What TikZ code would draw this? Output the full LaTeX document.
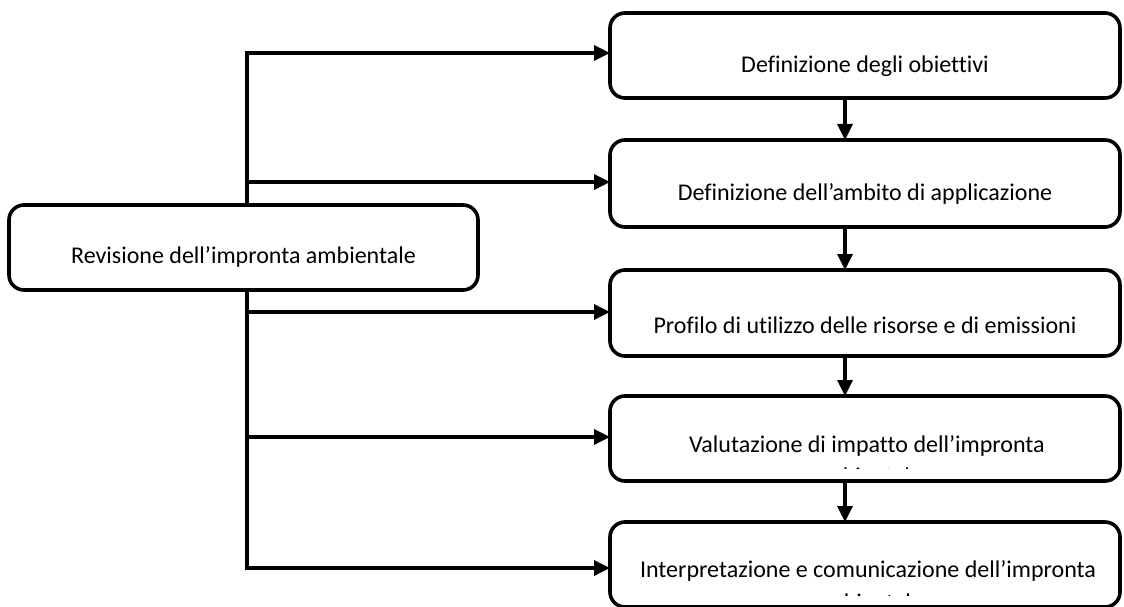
\documentclass[tikz,border=0pt]{standalone}
\usepackage{fontspec}
\setmainfont{Carlito}[RawFeature=-liga]
\usetikzlibrary{arrows.meta}
\begin{document}
\begin{tikzpicture}[x=1pt,y=-1pt,
  boxstyle/.style={draw=black, line width=3.6pt, rounded corners=15pt, fill=white, inner sep=0pt, outer sep=0pt},
  lbl/.style={font=\fontsize{24}{29}\selectfont, anchor=base, inner sep=0pt},
  arr/.style={line width=3.4pt, -{Triangle[length=16pt,width=15pt]}},
  trunkline/.style={line width=3.4pt}]
\useasboundingbox (0,0) rectangle (1124,607);
% trunk (behind the boxes)
\coordinate (j1) at (247,53);
\coordinate (j2) at (247,182);
\coordinate (j3) at (247,312);
\coordinate (j4) at (247,437);
\coordinate (j5) at (247,568);
\draw[trunkline] ([yshift=1.7pt]j1) -- ([yshift=-1.7pt]j5);
% boxes
\node[boxstyle, minimum width=469pt, minimum height=85pt] (rev) at (243.5,247.5) {};
\node[boxstyle, minimum width=510pt, minimum height=85pt] (b1) at (865,55.5) {};
\node[boxstyle, minimum width=510pt, minimum height=87pt] (b2) at (865,183.5) {};
\node[boxstyle, minimum width=510pt, minimum height=86pt] (b3) at (865,313) {};
\node[boxstyle, minimum width=510pt, minimum height=85pt] (b4) at (865,438.5) {};
\node[boxstyle, minimum width=510pt, minimum height=85pt] (b5) at (865,564.5) {};
% texts
\node[lbl] (trev) at (243.5,263) {Revisione dell’impronta ambientale};
\node[lbl] (t1) at (865,73) {Definizione degli obiettivi};
\node[lbl] (t2) at (865,200) {Definizione dell’ambito di applicazione};
\node[lbl] (t3) at (865,333) {Profilo di utilizzo delle risorse e di emissioni};
\begin{scope}
  \clip (b4.north west) rectangle ([yshift=13pt]b4.south east);
  \node[lbl] (t4) at (867,452) {Valutazione di impatto dell’impronta};
  \node[lbl] (t4b) at (867,484) {ambientale};
\end{scope}
\begin{scope}
  \clip (b5.north west) rectangle ([yshift=12pt]b5.south east);
  \node[lbl] (t5) at (868,577) {Interpretazione e comunicazione dell’impronta};
  \node[lbl] (t5b) at (868,610) {ambientale};
\end{scope}
% horizontal arrows
\draw[arr] ([xshift=-1.7pt]j1) -- (j1 -| b1.west);
\draw[arr] (j2) -- (j2 -| b2.west);
\draw[arr] (j3) -- (j3 -| b3.west);
\draw[arr] (j4) -- (j4 -| b4.west);
\draw[arr] ([xshift=-1.7pt]j5) -- (j5 -| b5.west);
% vertical arrows
\coordinate (va) at (845,0);
\draw[arr] (b1.south -| va) -- (b2.north -| va);
\draw[arr] (b2.south -| va) -- (b3.north -| va);
\draw[arr] (b3.south -| va) -- (b4.north -| va);
\draw[arr] (b4.south -| va) -- (b5.north -| va);
\end{tikzpicture}
\end{document}
